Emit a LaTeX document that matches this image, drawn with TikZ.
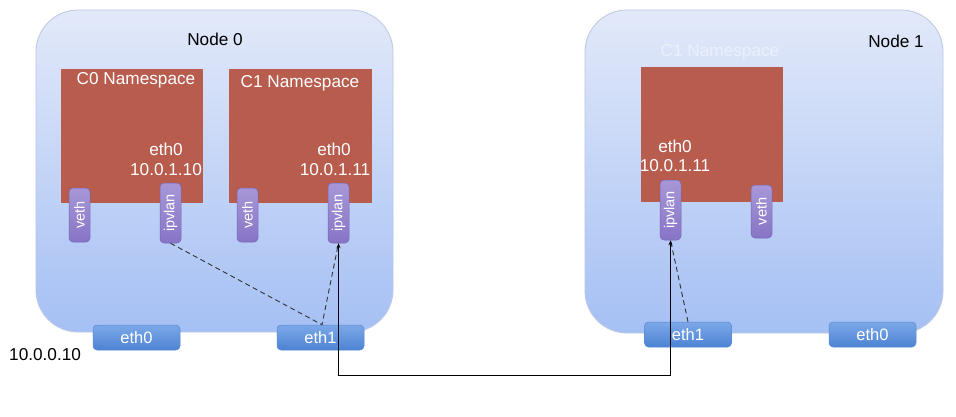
\documentclass[tikz,border=0pt]{standalone}
\usepackage{fontspec}
\setmainfont{Liberation Sans}
\usetikzlibrary{arrows.meta}
\definecolor{hosttop}{HTML}{E2E9F9}
\definecolor{hostbot}{HTML}{A5C0F4}
\definecolor{hostedge}{HTML}{BCC6E2}
\definecolor{nsred}{HTML}{B85C4E}
\definecolor{pilltop}{HTML}{A797D7}
\definecolor{pillbot}{HTML}{8874C6}
\definecolor{pilledge}{HTML}{7865B5}
\definecolor{ethtop}{HTML}{7DA8E8}
\definecolor{ethbot}{HTML}{4C83D4}
\definecolor{ethedge}{HTML}{5A8AD0}
\tikzset{
  hostbox/.style={draw=hostedge, line width=0.8pt, rounded corners=42pt, top color=hosttop, bottom color=hostbot, inner sep=0pt},
  nsbox/.style={fill=nsred, draw=none, inner sep=0pt},
  pill/.style={draw=pilledge, line width=0.5pt, rounded corners=4pt, top color=pilltop, bottom color=pillbot, inner sep=0pt, minimum width=21pt},
  pilltxt/.style={text=white, font=\fontsize{14.5}{14.5}\selectfont, rotate=90, inner sep=0pt},
  ethbox/.style={draw=ethedge, line width=0.5pt, rounded corners=4pt, top color=ethtop, bottom color=ethbot, inner sep=0pt, minimum width=87pt, minimum height=25pt, text=white, font=\fontsize{16.5}{16.5}\selectfont},
  lbl/.style={font=\fontsize{17.2}{17.2}\selectfont, inner sep=0pt},
  wlbl/.style={lbl, text=white},
  dashlink/.style={dashed, dash pattern=on 5pt off 3.5pt, line width=0.9pt, draw=black!80},
  link/.style={line width=1pt, {Stealth[length=5pt,width=4pt]}-{Stealth[length=5pt,width=4pt]}}
}
\begin{document}
\begin{tikzpicture}[x=1pt,y=-1pt]
\useasboundingbox[fill=white] (0,0) rectangle (956,417);
% hosts
\node[hostbox, minimum width=357pt, minimum height=322pt] (host0) at (214.5,171) {};
\node[hostbox, minimum width=358pt, minimum height=323pt] (host1) at (764,171.5) {};
\node[lbl] (host0lbl) at (215,39) {Node 0};
\node[lbl] (host1lbl) at (896,41) {Node 1};
% namespaces
\node[nsbox, minimum width=142pt, minimum height=134pt] (ns0) at (132,136) {};
\node[nsbox, minimum width=143pt, minimum height=134pt] (ns1) at (300.5,136) {};
\node[nsbox, minimum width=142pt, minimum height=135pt] (ns2) at (712,134.5) {};
\node[wlbl] (ns0lbl) at (136,80) {C0 Namespace};
\node[wlbl] (ns1lbl) at (300,83) {C1 Namespace};
\node[wlbl, text opacity=0.45] (ns2lbl) at (720,52) {C1 Namespace};
% addresses
\node[wlbl] (ns0eth) at (166,149) {eth0};
\node[wlbl] (ns0ip) at (166,170) {10.0.1.10};
\node[wlbl] (ns1eth) at (334,149) {eth0};
\node[wlbl] (ns1ip) at (335,170) {10.0.1.11};
\node[wlbl] (ns2eth) at (675,146) {eth0};
\node[wlbl] (ns2ip) at (675,166) {10.0.1.11};
% pills
\node[pill, minimum height=54pt] (c0veth) at (79.5,215) {};
\node[pilltxt] at (c0veth) {veth};
\node[pill, minimum height=60pt] (c0ipv) at (170.5,213) {};
\node[pilltxt] at (c0ipv) {ipvlan};
\node[pill, minimum height=54pt] (c1veth) at (247.5,215) {};
\node[pilltxt] at (c1veth) {veth};
\node[pill, minimum height=60pt] (c1ipv) at (338.5,213) {};
\node[pilltxt] at (c1ipv) {ipvlan};
\node[pill, minimum height=60pt] (n1ipv) at (670.5,210) {};
\node[pilltxt] at (n1ipv) {ipvlan};
\node[pill, minimum height=53pt] (n1veth) at (761.5,211.5) {};
\node[pilltxt] at (n1veth) {veth};
% physical interfaces
\node[ethbox] (h0eth0) at (136.5,337.5) {eth0};
\node[ethbox] (h0eth1) at (320.5,337.5) {eth1};
\node[ethbox] (h1eth1) at (688,334.5) {eth1};
\node[ethbox] (h1eth0) at (872.5,334.5) {eth0};
\node[lbl, anchor=west] (hostip) at (9,355) {10.0.0.10};
% links
\coordinate (tap0) at ([xshift=1.5pt]h0eth1.north);
\draw[dashlink] (c0ipv.south) -- (tap0) -- (c1ipv.south);
\draw[dashlink] (h1eth1.north) -- (n1ipv.south);
\draw[link] (c1ipv.south) -- ++(0,132) -| (n1ipv.south);
\end{tikzpicture}
\end{document}
